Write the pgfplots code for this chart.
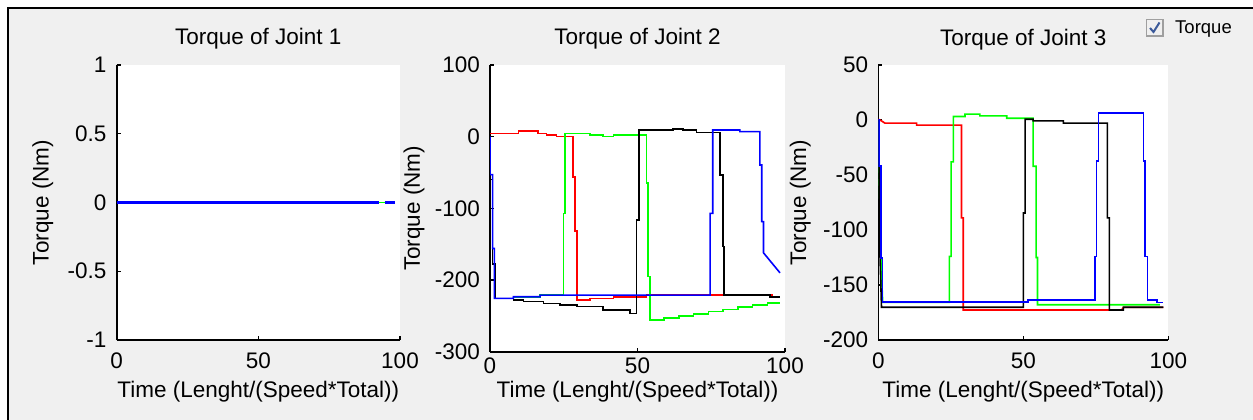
\documentclass[border=0pt]{standalone}
\usepackage{fontspec}
\setmainfont{Liberation Sans}
\usepackage{pgfplots}
\pgfplotsset{compat=1.18}
\definecolor{figbg}{HTML}{F0F0F0}
\definecolor{mred}{HTML}{FF0000}
\definecolor{mgreen}{HTML}{00FF00}
\definecolor{mblue}{HTML}{0000FF}
\definecolor{chkblue}{HTML}{3C5A9A}

\pgfplotsset{
  mat/.style={
    scale only axis,
    axis background/.style={fill=white},
    axis x line*=bottom, axis y line*=left,
    axis line style={-, line width=1.6bp, black},
    tick align=inside, major tick length=4bp,
    tick style={line width=1.2bp, black},
    xmin=0, xmax=100, xtick={0,50,100}, xticklabels={0,50,100},
    font=\fontsize{22.5bp}{26bp}\selectfont,
    every axis title shift=0pt,
    title style={at={(0.5,1)}, anchor=base, yshift=20bp},
    xticklabel style={anchor=base, inner sep=0pt},
    yticklabel style={anchor=east, xshift=-10bp, inner sep=0pt},
    xlabel={Time (Lenght/(Speed*Total))},
    ylabel={Torque (Nm)},
    every axis plot/.append style={line width=1.6bp, line join=miter},
  }
}

\begin{document}
\begin{tikzpicture}
\path[use as bounding box] (0,0) rectangle (1253bp,420bp);
\fill[white] (0,0) rectangle (1253bp,420bp);
\fill[figbg] (7bp,0) rectangle (1253bp,413bp);
\draw[line width=2.3bp, black] (7.9bp,0) -- (7.9bp,412.1bp) -- (1253bp,412.1bp);

% ---- Joint 1
\begin{axis}[mat, at={(116.7bp,80bp)}, anchor=south west,
  width=283.3bp, height=275bp,
  title={Torque of Joint 1},
  ymin=-1, ymax=1, ytick={-1,-0.5,0,0.5,1}, yticklabels={-1,-0.5,0,0.5,1},
  xticklabel style={yshift=-28bp},
  xlabel style={at={([yshift=-57bp]axis description cs:0.5,0)}, anchor=base},
  ylabel style={at={([xshift=-74bp]axis description cs:0,0.5)}, anchor=center},
]
\addplot[black] coordinates {(0,0) (98.3,0)};
\addplot[mred] coordinates {(0,0) (98.3,0)};
\addplot[mgreen] coordinates {(0,0) (98.3,0)};
\addplot[mblue, line width=2.4bp] coordinates {(0,0) (92.5,0)};
\addplot[mblue, line width=2.4bp] coordinates {(94.6,0) (98.3,0)};
\end{axis}

% ---- Joint 2
\begin{axis}[mat, at={(490bp,68.3bp)}, anchor=south west,
  width=295bp, height=286.7bp,
  title={Torque of Joint 2},
  ymin=-300, ymax=100, ytick={-300,-200,-100,0,100}, yticklabels={-300,-200,-100,0,100},
  xticklabel style={yshift=-22bp},
  xlabel style={at={([yshift=-45.5bp]axis description cs:0.5,0)}, anchor=base},
  ylabel style={at={([xshift=-76bp]axis description cs:0,0.5)}, anchor=center},
]
\addplot[mred] coordinates {
 (0,4.7) (9.6,4.7) (9.6,7.5) (16.3,7.5) (16.3,4.7) (19.2,4.7) (19.2,2.3) (22.6,2.3)
 (22.6,0) (28.2,0) (28.2,-56) (28.8,-56) (28.8,-132) (29.4,-132) (29.4,-228)
 (33.9,-228) (33.9,-226) (41.8,-226) (41.8,-223.5) (53.1,-223.5) (53.1,-221)
 (95.5,-221) (95.5,-224.6) (98.3,-224.6)};
\addplot[mgreen] coordinates {
 (0,0) (0,-53) (0.9,-53) (0.9,-156) (1.5,-156) (1.5,-225.6) (7.9,-225.6) (7.9,-223.3)
 (17,-223.3) (17,-221) (24.9,-221) (24.9,-107) (25.4,-107) (25.4,4.7) (33.9,4.7)
 (33.9,2.3) (38.4,2.3) (38.4,0) (41.8,0) (41.8,2.3) (53.1,2.3) (53.1,-65) (53.6,-65)
 (53.6,-195) (54.2,-195) (54.2,-256) (59,-256) (59,-253) (64,-253) (64,-250) (69,-250)
 (69,-247) (74,-247) (74,-244) (79,-244) (79,-241) (84,-241) (84,-238) (89,-238)
 (89,-235) (94,-235) (94,-232) (98.3,-232)};
\addplot[black] coordinates {
 (0,0) (0,-60) (0.8,-60) (0.8,-178) (1.7,-178) (1.7,-225.5) (7.9,-225.5) (7.9,-227.9)
 (11.3,-227.9) (11.3,-230.2) (18.1,-230.2) (18.1,-232.5) (23.7,-232.5) (23.7,-234.8)
 (29.4,-234.8) (29.4,-237.2) (38.4,-237.2) (38.4,-241.8) (47.5,-241.8) (47.5,-246.5)
 (49.7,-246.5) (49.7,-116) (50.6,-116) (50.6,9.3) (62.1,9.3) (62.1,10.7) (65.5,10.7)
 (65.5,9.3) (70,9.3) (70,5.6) (78,5.6) (78,-53.5) (78.9,-53.5) (78.9,-153.5)
 (79.4,-153.5) (79.4,-221) (94.9,-221) (94.9,-223.3) (98.3,-223.3)};
\addplot[mblue] coordinates {
 (0,0) (0,-53) (0.9,-53) (0.9,-156) (1.5,-156) (1.5,-225.6) (7.9,-225.6) (7.9,-223.3)
 (17,-223.3) (17,-221) (74.6,-221) (74.6,-107) (75.5,-107) (75.5,9.3) (84.7,9.3)
 (84.7,7) (91.5,7) (91.5,-39.5) (92.1,-39.5) (92.1,-118.6) (92.7,-118.6) (92.7,-162)
 (98.3,-190)};
\end{axis}

% ---- Joint 3
\begin{axis}[mat, at={(878.3bp,80bp)}, anchor=south west,
  width=290bp, height=275bp,
  title={Torque of Joint 3},
  ymin=-200, ymax=50, ytick={-200,-150,-100,-50,0,50}, yticklabels={-200,-150,-100,-50,0,50},
  xticklabel style={yshift=-28bp},
  xlabel style={at={([yshift=-57bp]axis description cs:0.5,0)}, anchor=base},
  ylabel style={at={([xshift=-78bp]axis description cs:0,0.5)}, anchor=center},
]
\addplot[mred] coordinates {
 (0,0.7) (1.1,-0.8) (2.3,-2.9) (13.2,-2.9) (13.2,-4.7) (28.7,-4.7) (28.7,-89)
 (29.3,-89) (29.3,-172.7) (83.9,-172.7) (84.5,-170.4) (98.3,-170.4)};
\addplot[mgreen] coordinates {
 (0,0) (0.3,-42) (0.9,-125) (1.5,-165.7) (24.5,-165.7) (24.5,-124) (25.1,-124)
 (25.1,-38) (25.9,-38) (25.9,3.2) (29.9,3.2) (29.9,5.3) (35,5.3) (35,3.8) (44.3,3.8)
 (44.3,1.6) (53.4,1.6) (53.4,-42) (54.4,-42) (54.4,-125) (54.9,-125) (54.9,-168)
 (97.1,-168)};
\addplot[black] coordinates {
 (0,0) (0.3,-42) (0.6,-125) (1.1,-170.2) (50,-170.2) (50,-84.5) (50.6,-84.5)
 (50.6,0.7) (53.4,0.7) (53.4,-0.8) (63.8,-0.8) (63.8,-2.9) (79,-2.9) (79,-89)
 (79.7,-89) (79.7,-172.7) (84.5,-172.7) (84.5,-170.2) (98.3,-170.2)};
\addplot[mblue] coordinates {
 (0,0) (0.3,0) (0.3,-42) (0.9,-42) (0.9,-125.5) (1.5,-125.5) (1.5,-165.7)
 (51.7,-165.7) (51.7,-163.5) (74.7,-163.5) (74.7,-124) (75.3,-124) (75.3,-37.5)
 (75.9,-37.5) (75.9,6.6) (91.4,6.6) (91.4,-37.5) (92,-37.5) (92,-124) (92.8,-124)
 (92.8,-163.5) (96,-163.5) (96,-166) (98.3,-166)};
\end{axis}

% checkbox
\draw[line width=1.2bp, gray!75, fill=white!88!gray] (1146.5bp,384bp) rectangle (1163bp,400.5bp);
\draw[line width=2bp, chkblue] (1150bp,392bp) -- (1153.5bp,388bp) -- (1159.5bp,397.5bp);
\node[anchor=base west, inner sep=0pt, font=\fontsize{18.5bp}{21bp}\selectfont] at (1175bp,386bp) {Torque};
\end{tikzpicture}
\end{document}
